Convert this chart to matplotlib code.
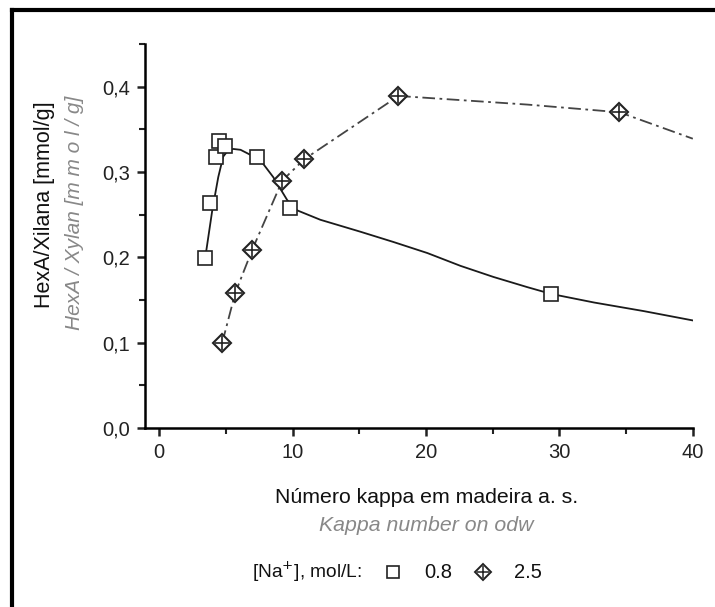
import matplotlib
matplotlib.use("Agg")
import matplotlib.pyplot as plt
from matplotlib.lines import Line2D
from matplotlib.ticker import MultipleLocator, FuncFormatter

plt.rcParams["font.family"] = ["Liberation Sans", "DejaVu Sans"]

# --- data ----------------------------------------------------------------
# [Na+] = 0.8 mol/L (open squares) and its fitted curve
kappa_08 = [3.45, 3.83, 4.28, 4.50, 4.90, 7.35, 9.83, 29.4]
hexa_08 = [0.199, 0.264, 0.317, 0.336, 0.331, 0.318, 0.258, 0.157]
fit_x_08 = [3.45, 3.98, 4.43, 4.80, 5.15, 5.55, 6.10, 6.60, 7.58, 8.55, 9.60,
            10.35, 12.08, 15.08, 17.55, 20.1, 22.58, 25.05, 27.6, 29.4,
            32.6, 36.3, 40.0]
fit_y_08 = [0.199, 0.255, 0.294, 0.318, 0.325, 0.327, 0.326, 0.322, 0.314,
            0.294, 0.267, 0.255, 0.244, 0.230, 0.218, 0.205, 0.190, 0.177,
            0.165, 0.157, 0.147, 0.137, 0.126]

# [Na+] = 2.5 mol/L (crossed diamonds) and its dash-dot line
kappa_25 = [4.73, 5.70, 6.98, 9.23, 10.88, 17.93, 34.5]
hexa_25 = [0.100, 0.158, 0.209, 0.290, 0.315, 0.389, 0.370]
fit_x_25 = [4.73, 5.70, 6.98, 9.23, 10.88, 17.93, 19.0, 27.6, 34.5, 40.0]
fit_y_25 = [0.100, 0.158, 0.209, 0.290, 0.315, 0.389, 0.388, 0.379, 0.370, 0.339]

legend_labels = ["0.8", "2.5"]

# --- figure ---------------------------------------------------------------
fig = plt.figure(figsize=(7.15, 6.07), dpi=100)
ax = fig.add_axes([0.203, 0.295, 0.766, 0.6325])

ax.plot(fit_x_08, fit_y_08, "-", color="#1a1a1a", lw=1.3, zorder=2)
ax.plot(fit_x_25, fit_y_25, color="#444444", lw=1.3,
        dashes=(7, 2.5, 1.5, 2.5), zorder=2)
ax.plot(kappa_08, hexa_08, "s", ms=9.5, mfc="white", mec="#222222", mew=1.2,
        ls="none", zorder=3)
ax.plot(kappa_25, hexa_25, "D", ms=9, mfc="white", mec="#222222", mew=1.5,
        ls="none", zorder=3)
ax.plot(kappa_25, hexa_25, "+", ms=10, mec="#222222", mew=1.2,
        ls="none", zorder=4)

ax.set_xlim(-1.05, 40)
ax.set_ylim(0, 0.45)
for s in ("top", "right"):
    ax.spines[s].set_visible(False)
for s in ("left", "bottom"):
    ax.spines[s].set_linewidth(1.8)

ax.xaxis.set_major_locator(MultipleLocator(10))
ax.xaxis.set_minor_locator(MultipleLocator(5))
ax.yaxis.set_major_locator(MultipleLocator(0.1))
ax.yaxis.set_minor_locator(MultipleLocator(0.05))
ax.yaxis.set_major_formatter(FuncFormatter(lambda v, p: f"{v:.1f}".replace(".", ",")))
ax.tick_params(which="major", direction="out", length=6, width=1.8,
               labelsize=14.5, pad=5, colors="#222222")
ax.tick_params(which="minor", direction="out", length=4, width=1.5, colors="#222222")

# y labels (Portuguese + English)
fig.text(0.062, 0.662, "HexA/Xilana [mmol/g]", rotation=90, ha="center",
         va="center", fontsize=15.5, color="#111111")
fig.text(0.104, 0.650, "HexA / Xylan [m m o l / g]", rotation=90,
         ha="center", va="center", fontsize=15, color="#888888", style="italic")

# x labels
fig.text(0.596, 0.180, "Número kappa em madeira a. s.", ha="center",
         va="center", fontsize=15.3, color="#111111")
fig.text(0.596, 0.135, "Kappa number on odw", ha="center", va="center",
         fontsize=15.3, color="#888888", style="italic")

# legend row
fig.text(0.430, 0.057, "[Na$^{+}$], mol/L:", ha="center", va="center",
         fontsize=13.8, color="#111111")
fig.add_artist(Line2D([0.5497], [0.057], marker="s", ms=8, mfc="white",
                      mec="#222222", mew=1.2, ls="none"))
fig.text(0.613, 0.057, legend_labels[0], ha="center", va="center",
         fontsize=14.5, color="#111111")
fig.add_artist(Line2D([0.6755], [0.057], marker="D", ms=8, mfc="white",
                      mec="#222222", mew=1.4, ls="none"))
fig.add_artist(Line2D([0.6755], [0.057], marker="+", ms=9, mec="#222222",
                      mew=1.1, ls="none"))
fig.text(0.738, 0.057, legend_labels[1], ha="center", va="center",
         fontsize=14.5, color="#111111")

# outer frame (top and left edges visible)
fig.add_artist(Line2D([0.0168, 1.0], [0.984, 0.984], color="black", lw=3))
fig.add_artist(Line2D([0.0168, 0.0168], [0.0, 0.984], color="black", lw=3))

fig.savefig("out.png", dpi=100)
